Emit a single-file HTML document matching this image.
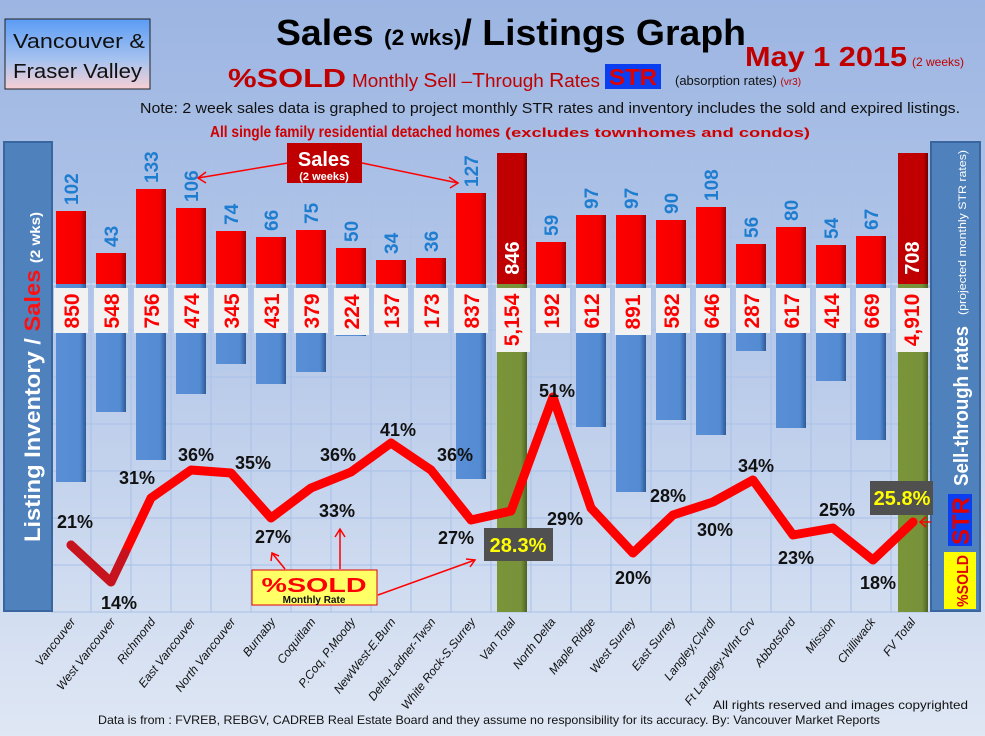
<!DOCTYPE html>
<html><head><meta charset="utf-8"><style>
html,body{margin:0;padding:0;background:#d6e0f0}
svg{display:block}
text{font-family:"Liberation Sans",sans-serif}
</style></head><body>
<svg width="985" height="736" viewBox="0 0 985 736" xmlns="http://www.w3.org/2000/svg">
<defs>
<linearGradient id="bg" x1="0" y1="0" x2="0" y2="1">
<stop offset="0" stop-color="#9cb5e2"/><stop offset="0.5" stop-color="#b9cbea"/><stop offset="1" stop-color="#dfe7f4"/></linearGradient>
<linearGradient id="vbox" x1="0" y1="0" x2="0" y2="1"><stop offset="0" stop-color="#5b9cf5"/><stop offset="0.6" stop-color="#a9c3ef"/><stop offset="1" stop-color="#f8cfd4"/></linearGradient>
<linearGradient id="red" x1="0" y1="0" x2="1" y2="0"><stop offset="0" stop-color="#ff0000"/><stop offset="0.8" stop-color="#f40000"/><stop offset="1" stop-color="#a00000"/></linearGradient>
<linearGradient id="dred" x1="0" y1="0" x2="1" y2="0"><stop offset="0" stop-color="#c00000"/><stop offset="0.85" stop-color="#c00000"/><stop offset="1" stop-color="#700000"/></linearGradient>
<linearGradient id="blue" x1="0" y1="0" x2="1" y2="0"><stop offset="0" stop-color="#5a8fd6"/><stop offset="0.8" stop-color="#548bd3"/><stop offset="1" stop-color="#2e5a96"/></linearGradient>
<linearGradient id="grn" x1="0" y1="0" x2="1" y2="0"><stop offset="0" stop-color="#7a9438"/><stop offset="0.8" stop-color="#77923a"/><stop offset="1" stop-color="#4e6222"/></linearGradient>
</defs>
<rect width="985" height="736" fill="url(#bg)"/>
<!-- grid -->
<g stroke="#a9c0e8" stroke-width="1">
<line x1="51" y1="190" x2="930" y2="190"/><line x1="51" y1="237" x2="930" y2="237"/>
<line x1="51" y1="284" x2="930" y2="284" stroke="#dfe7f5"/><line x1="51" y1="330" x2="930" y2="330"/>
<line x1="51" y1="377" x2="930" y2="377"/><line x1="51" y1="424" x2="930" y2="424"/>
<line x1="51" y1="471" x2="930" y2="471"/><line x1="51" y1="518" x2="930" y2="518"/>
<line x1="51" y1="565" x2="930" y2="565"/><line x1="51" y1="612" x2="930" y2="612"/>
<line x1="91" y1="153" x2="91" y2="612"/><line x1="131" y1="153" x2="131" y2="612"/><line x1="171" y1="153" x2="171" y2="612"/><line x1="211" y1="153" x2="211" y2="612"/><line x1="251" y1="153" x2="251" y2="612"/><line x1="291" y1="153" x2="291" y2="612"/><line x1="331" y1="153" x2="331" y2="612"/><line x1="371" y1="153" x2="371" y2="612"/><line x1="411" y1="153" x2="411" y2="612"/><line x1="451" y1="153" x2="451" y2="612"/><line x1="491" y1="153" x2="491" y2="612"/><line x1="531" y1="153" x2="531" y2="612"/><line x1="571" y1="153" x2="571" y2="612"/><line x1="611" y1="153" x2="611" y2="612"/><line x1="651" y1="153" x2="651" y2="612"/><line x1="691" y1="153" x2="691" y2="612"/><line x1="731" y1="153" x2="731" y2="612"/><line x1="771" y1="153" x2="771" y2="612"/><line x1="811" y1="153" x2="811" y2="612"/><line x1="851" y1="153" x2="851" y2="612"/><line x1="891" y1="153" x2="891" y2="612"/>
</g>

<!-- header -->
<rect x="5" y="19" width="145" height="70" fill="url(#vbox)" stroke="#222" stroke-width="1"/>
<text x="13" y="48" font-size="20" fill="#111" textLength="132" lengthAdjust="spacingAndGlyphs">Vancouver &amp;</text>
<text x="13" y="78" font-size="20" fill="#111" textLength="129" lengthAdjust="spacingAndGlyphs">Fraser Valley</text>
<text x="276" y="45" font-size="36" font-weight="bold" fill="#000" textLength="470" lengthAdjust="spacingAndGlyphs">Sales <tspan font-size="22">(2 wks)</tspan>/ Listings Graph</text>
<text x="745" y="66" font-size="28" font-weight="bold" fill="#c00000" textLength="162" lengthAdjust="spacingAndGlyphs">May 1 2015</text>
<text x="912" y="66" font-size="12" fill="#c00000">(2 weeks)</text>
<text x="228" y="87" font-size="26" font-weight="bold" fill="#c00000" textLength="118" lengthAdjust="spacingAndGlyphs">%SOLD</text>
<text x="352" y="87" font-size="18" fill="#c00000" textLength="248" lengthAdjust="spacingAndGlyphs">Monthly <tspan font-size="20">S</tspan>ell –<tspan font-size="20">T</tspan>hrough <tspan font-size="20">R</tspan>ates</text>
<rect x="605" y="64" width="56" height="25" fill="#0b3ef0"/>
<text x="609" y="85" font-size="23" font-weight="bold" fill="#e00000" textLength="48" lengthAdjust="spacingAndGlyphs">STR</text>
<text x="675" y="85" font-size="13" fill="#111">(absorption rates) <tspan fill="#c00000" font-size="10">(vr3)</tspan></text>
<text x="140" y="113" font-size="15" fill="#111" textLength="820" lengthAdjust="spacingAndGlyphs">Note: 2 week sales data is graphed to project monthly STR rates and inventory includes the sold and expired listings.</text>
<text x="210" y="137" font-size="16" font-weight="bold" fill="#d00000" textLength="290" lengthAdjust="spacingAndGlyphs">All single family residential detached homes</text>
<text x="505" y="137" font-size="13" font-weight="bold" fill="#d00000" textLength="305" lengthAdjust="spacingAndGlyphs">(excludes townhomes and condos)</text>

<!-- side panels -->
<rect x="4" y="142" width="48" height="469" fill="#4f81bd" stroke="#3a66a0" stroke-width="2"/>
<text transform="translate(40,377) rotate(-90)" text-anchor="middle" font-size="22" font-weight="bold" fill="#fff" textLength="330" lengthAdjust="spacingAndGlyphs">Listing Inventory / <tspan fill="#ff1010">Sales</tspan> <tspan font-size="14">(2  wks)</tspan></text>
<rect x="931" y="142" width="49" height="469" fill="#4f81bd" stroke="#3a66a0" stroke-width="2"/>
<text transform="translate(968,486) rotate(-90)" font-size="20" font-weight="bold" fill="#fff" textLength="160" lengthAdjust="spacingAndGlyphs">Sell-through rates</text>
<text transform="translate(966,315) rotate(-90)" font-size="11" fill="#fff" textLength="165" lengthAdjust="spacingAndGlyphs">(projected monthly STR rates)</text>
<rect x="948" y="494" width="24" height="52" fill="#0b3ef0"/>
<text transform="translate(969,545) rotate(-90)" font-size="24" font-weight="bold" fill="#e00000" textLength="48" lengthAdjust="spacingAndGlyphs">STR</text>
<rect x="944" y="552" width="32" height="57" fill="#ffff00"/>
<text transform="translate(968,607) rotate(-90)" font-size="16" font-weight="bold" fill="#e00000" textLength="52" lengthAdjust="spacingAndGlyphs">%SOLD</text>

<!-- red sales bars -->
<g fill="url(#red)">
<rect x="56" y="211" width="30" height="73"/><rect x="96" y="253" width="30" height="31"/><rect x="136" y="189" width="30" height="95"/><rect x="176" y="208" width="30" height="76"/><rect x="216" y="231" width="30" height="53"/><rect x="256" y="237" width="30" height="47"/><rect x="296" y="230" width="30" height="54"/><rect x="336" y="248" width="30" height="36"/><rect x="376" y="260" width="30" height="24"/><rect x="416" y="258" width="30" height="26"/><rect x="456" y="193" width="30" height="91"/>
<rect x="536" y="242" width="30" height="42"/><rect x="576" y="215" width="30" height="69"/><rect x="616" y="215" width="30" height="69"/><rect x="656" y="220" width="30" height="64"/><rect x="696" y="207" width="30" height="77"/><rect x="736" y="244" width="30" height="40"/><rect x="776" y="227" width="30" height="57"/><rect x="816" y="245" width="30" height="39"/><rect x="856" y="236" width="30" height="48"/>
</g>
<g fill="url(#dred)"><rect x="497" y="153" width="30" height="131"/><rect x="898" y="153" width="30" height="131"/></g>
<!-- blue inventory bars -->
<g fill="url(#blue)">
<rect x="56" y="284" width="30" height="198"/><rect x="96" y="284" width="30" height="128"/><rect x="136" y="284" width="30" height="176"/><rect x="176" y="284" width="30" height="110"/><rect x="216" y="284" width="30" height="80"/><rect x="256" y="284" width="30" height="100"/><rect x="296" y="284" width="30" height="88"/><rect x="336" y="284" width="30" height="52"/><rect x="376" y="284" width="30" height="32"/><rect x="416" y="284" width="30" height="40"/><rect x="456" y="284" width="30" height="195"/>
<rect x="536" y="284" width="30" height="45"/><rect x="576" y="284" width="30" height="143"/><rect x="616" y="284" width="30" height="208"/><rect x="656" y="284" width="30" height="136"/><rect x="696" y="284" width="30" height="151"/><rect x="736" y="284" width="30" height="67"/><rect x="776" y="284" width="30" height="144"/><rect x="816" y="284" width="30" height="97"/><rect x="856" y="284" width="30" height="156"/>
</g>
<g fill="url(#grn)"><rect x="497" y="284" width="30" height="328"/><rect x="898" y="284" width="30" height="328"/></g>

<!-- inventory boxes -->
<g fill="#f2f2f2">
<rect x="54" y="288" width="34" height="45"/><rect x="94" y="288" width="34" height="45"/><rect x="134" y="288" width="34" height="45"/><rect x="174" y="288" width="34" height="45"/><rect x="214" y="288" width="34" height="45"/><rect x="254" y="288" width="34" height="45"/><rect x="294" y="288" width="34" height="45"/><rect x="334" y="288" width="35" height="47"/><rect x="374" y="288" width="34" height="45"/><rect x="414" y="288" width="34" height="45"/><rect x="454" y="288" width="34" height="45"/><rect x="496" y="288" width="34" height="64"/>
<rect x="536" y="288" width="34" height="45"/><rect x="576" y="288" width="34" height="45"/><rect x="615" y="288" width="36" height="47"/><rect x="656" y="288" width="34" height="45"/><rect x="696" y="288" width="34" height="45"/><rect x="736" y="288" width="34" height="45"/><rect x="776" y="288" width="34" height="45"/><rect x="816" y="288" width="34" height="45"/><rect x="856" y="288" width="34" height="45"/><rect x="896" y="288" width="34" height="64"/>
</g>
<g font-size="21" font-weight="bold" fill="#ff0000" text-anchor="middle">
<text transform="translate(79,311) rotate(-90)">850</text><text transform="translate(119,311) rotate(-90)">548</text><text transform="translate(159,311) rotate(-90)">756</text><text transform="translate(199,311) rotate(-90)">474</text><text transform="translate(239,311) rotate(-90)">345</text><text transform="translate(279,311) rotate(-90)">431</text><text transform="translate(319,311) rotate(-90)">379</text><text transform="translate(359,312) rotate(-90)">224</text><text transform="translate(399,311) rotate(-90)">137</text><text transform="translate(439,311) rotate(-90)">173</text><text transform="translate(479,311) rotate(-90)">837</text><text transform="translate(519,320) rotate(-90)">5,154</text>
<text transform="translate(559,311) rotate(-90)">192</text><text transform="translate(599,311) rotate(-90)">612</text><text transform="translate(640,312) rotate(-90)">891</text><text transform="translate(679,311) rotate(-90)">582</text><text transform="translate(719,311) rotate(-90)">646</text><text transform="translate(759,311) rotate(-90)">287</text><text transform="translate(799,311) rotate(-90)">617</text><text transform="translate(839,311) rotate(-90)">414</text><text transform="translate(879,311) rotate(-90)">669</text><text transform="translate(919,320) rotate(-90)">4,910</text>
</g>
<g font-size="20" font-weight="bold" fill="#fff" text-anchor="middle">
<text transform="translate(519,258) rotate(-90)">846</text><text transform="translate(919,258) rotate(-90)">708</text>
</g>
<!-- sales labels -->
<g font-size="19" font-weight="bold" fill="#1f7dd0">
<text transform="translate(78,205) rotate(-90)">102</text><text transform="translate(118,247) rotate(-90)">43</text><text transform="translate(158,183) rotate(-90)">133</text><text transform="translate(198,202) rotate(-90)">106</text><text transform="translate(238,225) rotate(-90)">74</text><text transform="translate(278,231) rotate(-90)">66</text><text transform="translate(318,224) rotate(-90)">75</text><text transform="translate(358,242) rotate(-90)">50</text><text transform="translate(398,254) rotate(-90)">34</text><text transform="translate(438,252) rotate(-90)">36</text><text transform="translate(478,187) rotate(-90)">127</text>
<text transform="translate(558,236) rotate(-90)">59</text><text transform="translate(598,209) rotate(-90)">97</text><text transform="translate(638,209) rotate(-90)">97</text><text transform="translate(678,214) rotate(-90)">90</text><text transform="translate(718,201) rotate(-90)">108</text><text transform="translate(758,238) rotate(-90)">56</text><text transform="translate(798,221) rotate(-90)">80</text><text transform="translate(838,239) rotate(-90)">54</text><text transform="translate(878,230) rotate(-90)">67</text>
</g>

<!-- Sales callout -->
<line x1="288" y1="163" x2="198" y2="178" stroke="#ff0000" stroke-width="1.5"/>
<polyline points="206,172 198,178 206,183" fill="none" stroke="#ff0000" stroke-width="1.5"/>
<line x1="362" y1="163" x2="458" y2="183" stroke="#ff0000" stroke-width="1.5"/>
<polyline points="449,177 458,183 450,188" fill="none" stroke="#ff0000" stroke-width="1.5"/>
<rect x="287" y="143" width="75" height="40" fill="#c00000"/>
<text x="324" y="166" text-anchor="middle" font-size="20" font-weight="bold" fill="#fff">Sales</text>
<text x="324" y="180" text-anchor="middle" font-size="11" font-weight="bold" fill="#fff">(2 weeks)</text>

<!-- STR line -->
<polyline points="71,545 111,582 151,498 191,470 231,473 271,518 311,488 351,472 391,443 431,470 471,520 511,511 553,397 591,508 633,553 673,515 713,502 753,480 793,535 833,528 873,560 913,522" fill="none" stroke="#ff0000" stroke-width="9" stroke-linejoin="round" stroke-linecap="round"/>
<polyline points="71,545 111,582 125,553" fill="none" stroke="#a02030" stroke-width="9" stroke-linejoin="round" stroke-linecap="round" opacity="0.6"/>

<!-- pct labels -->
<g font-size="18" font-weight="bold" fill="#111" text-anchor="middle">
<text x="75" y="528">21%</text><text x="119" y="609">14%</text><text x="137" y="484">31%</text><text x="196" y="461">36%</text><text x="253" y="469">35%</text><text x="273" y="543">27%</text><text x="338" y="461">36%</text><text x="337" y="517">33%</text><text x="398" y="436">41%</text><text x="455" y="461">36%</text><text x="456" y="544">27%</text>
<text x="557" y="397">51%</text><text x="565" y="525">29%</text><text x="633" y="584">20%</text><text x="668" y="502">28%</text><text x="715" y="536">30%</text><text x="756" y="472">34%</text><text x="796" y="564">23%</text><text x="837" y="516">25%</text><text x="878" y="589">18%</text>
</g>
<rect x="484" y="528" width="69" height="33" fill="#505050"/>
<text x="518" y="552" text-anchor="middle" font-size="20" font-weight="bold" fill="#ffff00">28.3%</text>
<rect x="870" y="481" width="63" height="34" fill="#505050"/>
<text x="902" y="505" text-anchor="middle" font-size="20" font-weight="bold" fill="#ffff00">25.8%</text>
<line x1="931" y1="522" x2="920" y2="522" stroke="#ff0000" stroke-width="1.5"/>
<polyline points="926,517 920,522 926,527" fill="none" stroke="#ff0000" stroke-width="1.5"/>

<!-- %SOLD callout -->
<line x1="285" y1="569" x2="272" y2="553" stroke="#ff0000" stroke-width="1.5"/>
<polyline points="271,561 272,553 279,556" fill="none" stroke="#ff0000" stroke-width="1.5"/>
<line x1="340" y1="569" x2="340" y2="529" stroke="#ff0000" stroke-width="1.5"/>
<polyline points="335,537 340,529 345,537" fill="none" stroke="#ff0000" stroke-width="1.5"/>
<line x1="378" y1="595" x2="475" y2="560" stroke="#ff0000" stroke-width="1.5"/>
<polyline points="466,559 475,560 470,567" fill="none" stroke="#ff0000" stroke-width="1.5"/>
<rect x="252" y="570" width="125" height="35" fill="#ffff66" stroke="#e00000" stroke-width="1"/>
<text x="314" y="592" text-anchor="middle" font-size="20" font-weight="bold" fill="#ff0000" textLength="105" lengthAdjust="spacingAndGlyphs">%SOLD</text>
<text x="314" y="603" text-anchor="middle" font-size="10" font-weight="bold" fill="#111">Monthly Rate</text>

<!-- category labels -->
<g font-size="12" font-style="italic" fill="#111" text-anchor="end">
<text transform="translate(76,622) rotate(-52)">Vancouver</text><text transform="translate(116,622) rotate(-52)">West Vancouver</text><text transform="translate(156,622) rotate(-52)">Richmond</text><text transform="translate(196,622) rotate(-52)">East Vancouver</text><text transform="translate(236,622) rotate(-52)">North Vancouver</text><text transform="translate(276,622) rotate(-52)">Burnaby</text><text transform="translate(316,622) rotate(-52)">Coquitlam</text><text transform="translate(356,622) rotate(-52)">P.Coq, P.Moody</text><text transform="translate(396,622) rotate(-52)">NewWest-E.Burn</text><text transform="translate(436,622) rotate(-52)">Delta-Ladner-Twsn</text><text transform="translate(476,622) rotate(-52)">White Rock-S.Surrey</text><text transform="translate(516,622) rotate(-52)">Van Total</text>
<text transform="translate(556,622) rotate(-52)">North Delta</text><text transform="translate(596,622) rotate(-52)">Maple Ridge</text><text transform="translate(636,622) rotate(-52)">West Surrey</text><text transform="translate(676,622) rotate(-52)">East Surrey</text><text transform="translate(716,622) rotate(-52)">Langley,Clvrdl</text><text transform="translate(756,622) rotate(-52)">Ft Langley-Wlnt Grv</text><text transform="translate(796,622) rotate(-52)">Abbotsford</text><text transform="translate(836,622) rotate(-52)">Mission</text><text transform="translate(876,622) rotate(-52)">Chilliwack</text><text transform="translate(916,622) rotate(-52)">FV Total</text>
</g>
<text x="713" y="709" font-size="12" fill="#111" textLength="255" lengthAdjust="spacingAndGlyphs">All rights reserved and  images copyrighted</text>
<text x="98" y="724" font-size="12" fill="#111" textLength="782" lengthAdjust="spacingAndGlyphs">Data is from : FVREB, REBGV, CADREB Real Estate Board and they assume no responsibility for its accuracy. By: Vancouver Market Reports</text>
</svg>
</body></html>
